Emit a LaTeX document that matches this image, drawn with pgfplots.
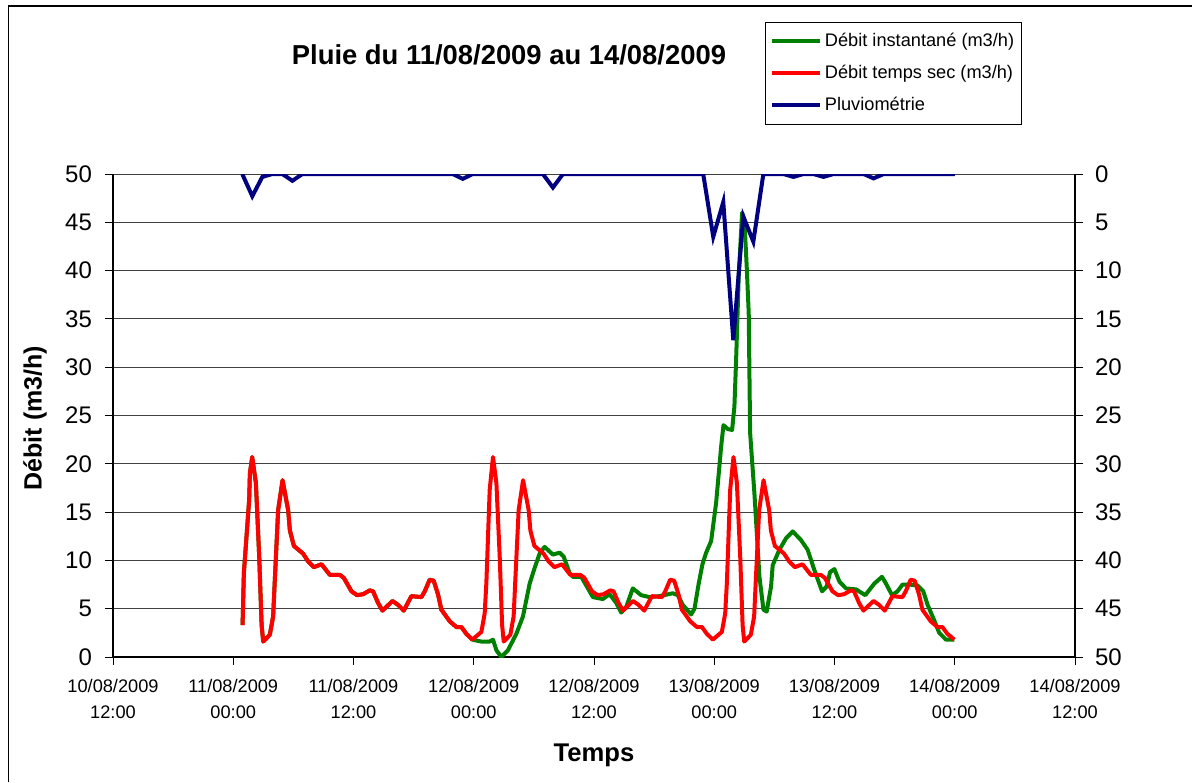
\documentclass[border=0pt]{standalone}
\usepackage{fontspec}
\setmainfont{Liberation Sans}
\usepackage{pgfplots}
\pgfplotsset{compat=1.18}
\definecolor{xlgreen}{RGB}{0,128,0}
\definecolor{xlred}{RGB}{255,0,0}
\definecolor{xlnavy}{RGB}{0,0,128}

\pgfplotstableread{
h v
12.93 3.3
13.06 8.7
13.59 16.3
13.66 19.0
13.89 20.7
14.26 18.0
14.59 10.4
14.83 3.3
14.99 1.6
15.65 2.3
15.98 4.2
16.15 8.0
16.48 15.2
16.92 18.3
17.48 15.2
17.65 13.1
18.05 11.5
18.97 10.7
19.47 9.9
20.04 9.3
20.81 9.6
21.64 8.5
22.63 8.5
23.03 8.2
23.80 6.8
24.36 6.4
24.96 6.5
25.62 6.9
25.95 6.8
26.45 5.6
26.89 4.8
27.89 5.8
28.44 5.4
29.01 4.8
29.78 6.3
30.78 6.2
31.11 6.8
31.60 8.0
32.00 7.9
32.43 6.5
32.77 4.9
33.60 3.7
34.27 3.1
34.77 3.1
35.26 2.4
35.86 1.8
36.76 2.6
37.09 4.5
37.26 7.7
37.59 17.3
37.92 20.7
38.26 18.0
38.59 10.4
38.83 3.3
38.99 1.6
39.65 2.3
39.98 4.2
40.15 8.0
40.48 15.2
40.92 18.3
41.48 15.2
41.65 13.1
42.05 11.5
42.97 10.7
43.47 9.9
44.04 9.3
44.81 9.6
45.64 8.5
46.63 8.5
47.03 8.2
47.80 6.8
48.36 6.4
48.96 6.5
49.62 6.9
49.95 6.8
50.45 5.6
50.89 4.8
51.89 5.8
52.44 5.4
53.01 4.8
53.78 6.3
54.78 6.2
55.11 6.8
55.60 8.0
56.00 7.9
56.43 6.5
56.77 4.9
57.60 3.7
58.27 3.1
58.77 3.1
59.26 2.4
59.86 1.8
60.76 2.6
61.09 4.5
61.26 7.7
61.59 17.3
61.92 20.7
62.26 18.0
62.59 10.4
62.83 3.3
62.99 1.6
63.65 2.3
63.98 4.2
64.15 8.0
64.48 15.2
64.92 18.3
65.48 15.2
65.65 13.1
66.05 11.5
66.97 10.7
67.47 9.9
68.04 9.3
68.81 9.6
69.64 8.5
70.63 8.5
71.03 8.2
71.80 6.8
72.36 6.4
72.96 6.5
73.62 6.9
73.95 6.8
74.45 5.6
74.89 4.8
75.89 5.8
76.44 5.4
77.01 4.8
77.78 6.3
78.78 6.2
79.11 6.8
79.60 8.0
80.00 7.9
80.43 6.5
80.77 4.9
81.60 3.7
82.27 3.1
82.77 3.1
83.26 2.4
83.96 1.8
}\sec

\pgfplotstableread{
h v
12.93 3.3
13.06 8.7
13.59 16.3
13.66 19.0
13.89 20.7
14.26 18.0
14.59 10.4
14.83 3.3
14.99 1.6
15.65 2.3
15.98 4.2
16.15 8.0
16.48 15.2
16.92 18.3
17.48 15.2
17.65 13.1
18.05 11.5
18.97 10.7
19.47 9.9
20.04 9.3
20.81 9.6
21.64 8.5
22.63 8.5
23.03 8.2
23.80 6.8
24.36 6.4
24.96 6.5
25.62 6.9
25.95 6.8
26.45 5.6
26.89 4.8
27.89 5.8
28.44 5.4
29.01 4.8
29.78 6.3
30.78 6.2
31.11 6.8
31.60 8.0
32.00 7.9
32.43 6.5
32.77 4.9
33.60 3.7
34.27 3.1
34.77 3.1
35.26 2.4
35.86 1.8
36.26 1.7
36.76 1.6
37.59 1.6
37.92 1.8
38.26 0.7
38.75 0.0
39.41 0.7
40.25 2.4
40.91 4.2
41.58 7.6
42.07 9.2
42.57 10.7
43.07 11.4
43.90 10.6
44.57 10.8
44.97 10.4
45.56 8.7
45.89 8.3
46.73 8.3
47.89 6.2
48.88 6.0
49.55 6.5
50.22 5.6
50.72 4.6
51.22 5.2
51.87 7.1
52.71 6.4
53.54 6.2
54.54 6.3
55.86 6.6
56.36 6.4
56.86 5.4
57.69 4.4
58.03 5.0
58.43 7.5
58.82 9.6
59.19 10.8
59.69 12.0
60.19 16.0
60.69 21.8
60.92 24.0
61.35 23.6
61.78 23.5
62.01 25.9
62.18 30.7
62.44 39.4
62.78 46.0
63.01 45.2
63.24 40.4
63.44 35.6
63.58 23.2
64.01 16.9
64.51 8.3
64.91 4.9
65.23 4.7
65.67 7.3
65.83 9.5
66.50 11.1
67.17 12.3
67.83 13.0
68.66 12.1
69.32 11.1
69.99 9.0
70.76 6.8
71.22 7.3
71.56 8.8
71.99 9.1
72.49 7.8
73.15 7.1
74.15 7.0
75.07 6.4
75.97 7.6
76.74 8.3
77.14 7.6
77.74 6.4
78.29 6.8
78.79 7.5
79.46 7.5
80.29 7.4
80.86 6.8
81.29 5.4
81.95 3.8
82.45 2.5
83.12 1.8
83.95 1.8
}\inst

\pgfplotstableread{
h v
12.9 0
13.9 2.3
14.9 0.3
15.9 0
16.9 0
17.9 0.7
18.9 0
33.9 0
34.9 0.5
35.9 0
42.9 0
43.9 1.4
44.9 0
58.9 0
59.9 6.5
60.9 2.9
61.9 17.2
62.9 4.4
63.9 7.0
64.9 0
66.9 0
67.9 0.3
68.9 0
69.9 0
70.9 0.3
71.9 0
74.9 0
75.9 0.45
76.9 0
84.0 0
}\pluie

\pgfplotsset{
  common/.style={
    scale only axis, width=481pt, height=241.5pt,
    at={(56.5pt,62.5pt)}, anchor=south west,
    xmin=0, xmax=96, ymin=0, ymax=50,
    ytick={0,5,...,50},
    tick align=outside, major tick length=4pt,
    tick style={black, line width=0.5pt},
    axis line style={black, line width=0.6pt, -},
    /pgf/number format/assume math mode=true,
    yticklabel style={font=\fontsize{12}{14}\selectfont},
  }
}

\begin{document}
\begin{tikzpicture}
\useasboundingbox (0,0) rectangle (596pt,391pt);
\fill[white] (0,0) rectangle (596pt,391pt);
\draw[black, line width=0.7pt] (4.2pt,0) -- (4.2pt,388pt) -- (596pt,388pt);

\begin{axis}[common,
  axis x line*=bottom, axis y line*=left,
  yticklabel style={xshift=-3pt},
  xtick={0,12,...,96},
  xticklabels={{10/08/2009\\12:00},{11/08/2009\\00:00},{11/08/2009\\12:00},{12/08/2009\\00:00},{12/08/2009\\12:00},{13/08/2009\\00:00},{13/08/2009\\12:00},{14/08/2009\\00:00},{14/08/2009\\12:00}},
  xticklabel style={font=\fontsize{9.1}{13}\selectfont, align=center, yshift=-3.5pt},
  ymajorgrids, grid style={black!75, line width=0.5pt},
  xlabel={Temps},
  xlabel style={at={(axis description cs:0.5,-0.2029)}, anchor=center, font=\bfseries\fontsize{12.8}{15}\selectfont},
  ylabel={Débit (m3/h)},
  ylabel style={at={(axis description cs:-0.0811,0.4948)}, anchor=center, rotate=0, font=\bfseries\fontsize{12.5}{15}\selectfont},
  title={Pluie du 11/08/2009 au 14/08/2009},
  title style={at={(axis description cs:0.4116,1.2215)}, anchor=center, font=\bfseries\fontsize{13.7}{16}\selectfont},
]
\addplot[xlgreen, line width=2pt, line join=round] table[x=h,y=v] {\inst};
\addplot[xlred, line width=2pt, line join=round] table[x=h,y=v] {\sec};
\end{axis}

\begin{axis}[common,
  y dir=reverse,
  axis y line*=right, axis x line=none,
  yticklabel style={xshift=2.5pt},
  legend style={at={(axis description cs:0.6778,1.3147)}, anchor=north west, draw=black, line width=0.5pt,
    font=\fontsize{9.1}{11}\selectfont, row sep=4.8pt, inner xsep=2.2pt, inner ysep=3.8pt,
    nodes={inner sep=1.5pt}},
  legend cell align=left,
  legend image code/.code={\draw[#1, line width=2pt] (0pt,0pt) -- (24pt,0pt);},
]
\addlegendimage{xlgreen}
\addlegendentry{Débit instantané (m3/h)}
\addlegendimage{xlred}
\addlegendentry{Débit temps sec (m3/h)}
\addplot[xlnavy, line width=2pt, line join=miter] table[x=h,y=v] {\pluie};
\addlegendentry{Pluviométrie}
\end{axis}
\end{tikzpicture}
\end{document}
